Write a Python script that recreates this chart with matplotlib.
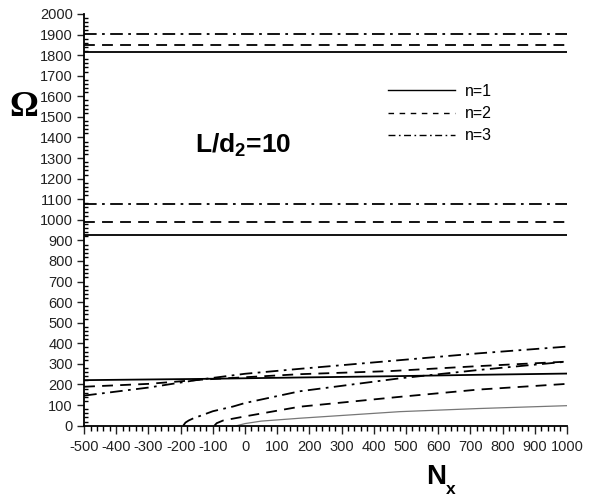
import matplotlib
matplotlib.use("Agg")
import matplotlib.pyplot as plt
from matplotlib.ticker import MultipleLocator
from matplotlib.lines import Line2D

plt.rcParams['font.family'] = ['Liberation Sans', 'DejaVu Sans']
plt.rcParams['axes.unicode_minus'] = False

# Horizontal (constant) branches: n=1, n=2, n=3
high_levels = [1815, 1850, 1905]
mid_levels = [926, 990, 1078]

# Upper low-frequency branches
up1_x = [-500, -140, 170, 450, 723, 1000]
up1_y = [221, 227, 234, 240, 247, 253]
up2_x = [-500, -300, -140, 170, 450, 723, 1000]
up2_y = [189, 203, 223, 250, 265, 289, 311]
up3_x = [-500, -300, -140, 0, 170, 450, 723, 1000]
up3_y = [146, 185, 224, 252, 276, 314, 351, 384]

# Lower branches (starting from zero)
lo1_x = [-25, 0, 50, 170, 481, 723, 1000]
lo1_y = [0, 10, 22, 36, 68, 83, 97]
lo2_x = [-95, -88, -68, 0, 170, 481, 723, 1000]
lo2_y = [0, 12, 25, 45, 92, 140, 175, 203]
lo3_x = [-192, -185, -175, -160, -140, -100, -37, 0, 170, 481, 723, 1000]
lo3_y = [0, 15, 25, 36, 47, 70, 93, 110, 167, 230, 270, 311]

labels = ['n=1', 'n=2', 'n=3']
x_min, x_max = -500, 1000

fig = plt.figure(figsize=(6.05, 4.99), dpi=100)
ax = fig.add_axes([0.139, 0.147, 0.798, 0.825])

dash = (0, (6, 4))
dashdot = (0, (7, 3, 1.5, 3))
styles = ['-', dash, dashdot]
lw = 1.3

for lvl, st in zip(high_levels, styles):
    ax.plot([x_min, x_max], [lvl, lvl], color='black', lw=lw, linestyle=st)
for lvl, st in zip(mid_levels, styles):
    ax.plot([x_min, x_max], [lvl, lvl], color='black', lw=lw, linestyle=st)

ax.plot(up1_x, up1_y, color='black', lw=lw, linestyle='-')
ax.plot(up2_x, up2_y, color='black', lw=lw, linestyle=dash)
ax.plot(up3_x, up3_y, color='black', lw=lw, linestyle=dashdot)
ax.plot(lo1_x, lo1_y, color='#777777', lw=0.9, linestyle='-')
ax.plot(lo2_x, lo2_y, color='black', lw=lw, linestyle=dash)
ax.plot(lo3_x, lo3_y, color='black', lw=lw, linestyle=dashdot)

ax.set_xlim(x_min, x_max)
ax.set_ylim(0, 2000)
ax.xaxis.set_major_locator(MultipleLocator(100))
ax.xaxis.set_minor_locator(MultipleLocator(20))
ax.yaxis.set_major_locator(MultipleLocator(100))
ax.yaxis.set_minor_locator(MultipleLocator(20))
for s in ['top', 'right']:
    ax.spines[s].set_visible(False)
ax.spines['left'].set_linewidth(1.3)
ax.spines['bottom'].set_linewidth(1.3)
ax.tick_params(axis='x', which='major', direction='out', length=6, width=1, labelsize=10.5, pad=4)
ax.tick_params(axis='x', which='minor', direction='out', length=3.5, width=1)
ax.tick_params(axis='y', which='major', direction='out', length=5, width=1, labelsize=10.5, pad=3)
ax.tick_params(axis='y', which='minor', direction='in', length=3, width=1)
ax.tick_params(colors='#222222')

# Legend
handles = [Line2D([], [], color='black', lw=1.0, linestyle=st) for st in ['-', (0, (4, 4)), (0, (5, 2.5, 1.2, 2.5))]]
ax.legend(handles, labels, loc='upper left', bbox_to_anchor=(0.6, 0.865), frameon=False,
          fontsize=11.5, handlelength=4.2, labelspacing=0.45, handletextpad=0.6)

ax.text(0.23, 0.682, r'L/d$_\mathregular{2}$=10', transform=ax.transAxes, fontsize=19,
        fontweight='bold', va='center', ha='left')

fig.text(23.5 / 605, 1 - 107 / 499, 'Ω', fontsize=26, fontweight='bold', family='Liberation Serif',
         ha='center', va='center')
fig.text(426 / 605, 1 - 484 / 499, 'N', fontsize=20, fontweight='bold', ha='left', va='baseline')
fig.text(446 / 605, 1 - 494 / 499, 'x', fontsize=12.5, fontweight='bold', ha='left', va='baseline')

fig.savefig('out.png', dpi=100)
